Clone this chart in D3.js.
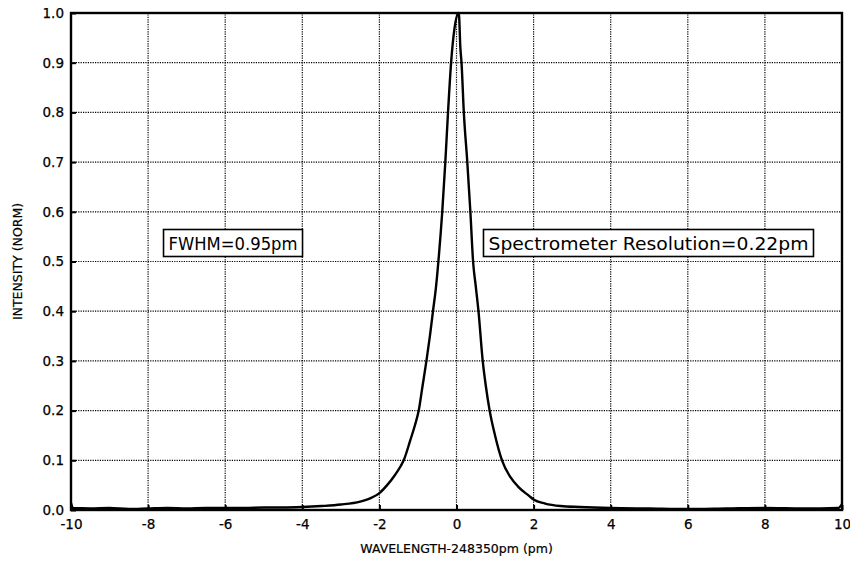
<!DOCTYPE html>
<html>
<head>
<meta charset="utf-8">
<script src="https://cdn.jsdelivr.net/npm/d3@7"></script>
<style>
  body { margin: 0; background: #fff; }
  text { font-family: "DejaVu Sans", sans-serif; fill: #000; }
</style>
</head>
<body>
<div id="container"></div>
<script>
// Data: wavelength offset (pm) and normalised intensity
const wavelength = [
  -10, -9.95, -9.5, -9, -8.5, -8, -7.5, -7, -6.5, -6, -5.5, -5, -4.5, -4,
  -3.5, -3, -2.5, -2.2, -2, -1.8, -1.6, -1.45, -1.37, -1.2, -1.08, -0.98,
  -0.88, -0.78, -0.69, -0.61, -0.53, -0.47, -0.37, -0.29, -0.22, -0.14,
  -0.05, 0.06, 0.1, 0.13, 0.19, 0.28, 0.36, 0.43, 0.5, 0.57, 0.68, 0.76,
  0.86, 1.0, 1.18, 1.4, 1.61, 1.89, 2.0, 2.3, 2.7, 3.2, 4, 5, 6, 7, 8, 9,
  9.9, 10
];
const intensity = [
  0.014, 0.004, 0.003, 0.004, 0.002, 0.003, 0.004, 0.003, 0.004, 0.004,
  0.004, 0.005, 0.005, 0.006, 0.008, 0.011, 0.017, 0.025, 0.034, 0.05,
  0.07, 0.088, 0.1, 0.14, 0.17, 0.2, 0.25, 0.3, 0.35, 0.4, 0.45, 0.5, 0.6,
  0.7, 0.8, 0.9, 0.97, 1.0, 0.93, 0.9, 0.8, 0.7, 0.6, 0.5, 0.45, 0.4, 0.3,
  0.25, 0.2, 0.15, 0.1, 0.066, 0.046, 0.028, 0.021, 0.013, 0.008, 0.006,
  0.004, 0.003, 0.002, 0.003, 0.004, 0.003, 0.004, 0.012
];
const xTicks = [-10, -8, -6, -4, -2, 0, 2, 4, 6, 8, 10];
const yTicks = [0, 0.1, 0.2, 0.3, 0.4, 0.5, 0.6, 0.7, 0.8, 0.9, 1.0];
const annotations = [
  { label: "FWHM=0.95pm", x: -7.6, width: 129 },
  { label: "Spectrometer Resolution=0.22pm", x: 0.7, width: 320 }
];
const annotationY = 0.5;
const xTitle = "WAVELENGTH-248350pm (pm)";
const yTitle = "INTENSITY (NORM)";

const W = 850, H = 568;
const margin = { left: 71, right: 8, top: 13, bottom: 58 };

const x = d3.scaleLinear().domain([-10, 10]).range([margin.left, W - margin.right]);
const y = d3.scaleLinear().domain([0, 1]).range([H - margin.bottom, margin.top]);

const svg = d3.select("#container")
  .append("svg")
  .attr("width", W)
  .attr("height", H);

// dotted grid
const grid = svg.append("g");
grid.selectAll("line.gx")
  .data(xTicks.slice(1, -1))
  .join("line")
  .attr("x1", d => x(d)).attr("x2", d => x(d))
  .attr("y1", y(0)).attr("y2", y(1))
  .attr("stroke", "#000").attr("stroke-width", 1.2)
  .attr("stroke-dasharray", "1.2,1.2");
grid.selectAll("line.gy")
  .data(yTicks.slice(1, -1))
  .join("line")
  .attr("x1", x(-10)).attr("x2", x(10))
  .attr("y1", d => y(d)).attr("y2", d => y(d))
  .attr("stroke", "#000").attr("stroke-width", 1.2)
  .attr("stroke-dasharray", "1.2,1.2");

// axes
const xAxis = svg.append("g")
  .attr("transform", `translate(0,${y(0)})`)
  .call(d3.axisBottom(x).tickValues(xTicks).tickSize(-5).tickPadding(9)
    .tickFormat(d => String(d)));
const yAxis = svg.append("g")
  .attr("transform", `translate(${x(-10)},0)`)
  .call(d3.axisLeft(y).tickValues(yTicks).tickSize(-5).tickPadding(7)
    .tickFormat(d => d.toFixed(1)));
[xAxis, yAxis].forEach(a => {
  a.select(".domain").remove();
  a.selectAll("line").attr("stroke", "#000").attr("stroke-width", 2);
  a.selectAll("text").attr("font-size", 13.5).attr("font-family", "DejaVu Sans, sans-serif")
    .attr("fill", "#000").attr("stroke", "#000").attr("stroke-width", 0.25);
});

// frame
svg.append("rect")
  .attr("x", x(-10)).attr("y", y(1))
  .attr("width", x(10) - x(-10)).attr("height", y(0) - y(1))
  .attr("fill", "none").attr("stroke", "#000").attr("stroke-width", 2.4);

// curve
const pts = wavelength.map((w, i) => [w, intensity[i]]);
svg.append("path")
  .datum(pts)
  .attr("fill", "none")
  .attr("stroke", "#000")
  .attr("stroke-width", 2.4)
  .attr("stroke-linejoin", "round")
  .attr("d", d3.line().curve(d3.curveMonotoneX).x(d => x(d[0])).y(d => y(d[1])));

// annotation boxes
annotations.forEach(a => {
  const g = svg.append("g");
  const t = g.append("text")
    .attr("x", x(a.x) + 5)
    .attr("y", y(annotationY) - 12)
    .attr("font-size", 18.5)
    .attr("textLength", a.width)
    .attr("lengthAdjust", "spacingAndGlyphs")
    .text(a.label);
  g.insert("rect", "text")
    .attr("x", x(a.x)).attr("y", y(annotationY) - 32)
    .attr("width", a.width + 10).attr("height", 27)
    .attr("fill", "#fff").attr("stroke", "#000").attr("stroke-width", 1.6);
});

// titles
svg.append("text")
  .attr("x", (x(-10) + x(10)) / 2)
  .attr("y", H - 15)
  .attr("text-anchor", "middle")
  .attr("font-size", 12.5)
  .attr("stroke", "#000").attr("stroke-width", 0.2)
  .text(xTitle);
svg.append("text")
  .attr("transform", `translate(22,${(y(0) + y(1)) / 2}) rotate(-90)`)
  .attr("text-anchor", "middle")
  .attr("font-size", 12.5)
  .attr("stroke", "#000").attr("stroke-width", 0.2)
  .text(yTitle);
</script>
</body>
</html>
